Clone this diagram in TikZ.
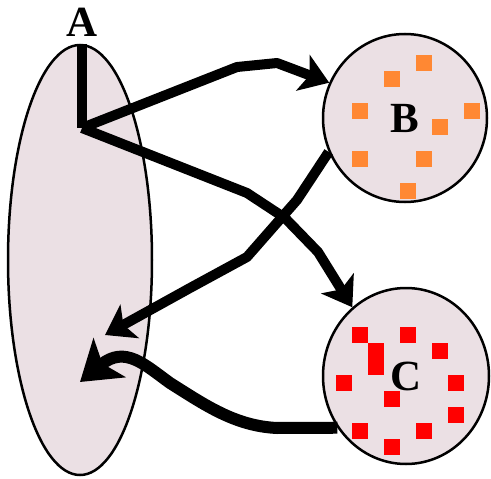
\documentclass[tikz,border=0pt]{standalone}
\usepackage{fontspec}
\setmainfont{Liberation Serif}
\usetikzlibrary{shapes.geometric,arrows.meta}
\definecolor{blobfill}{RGB}{235,224,228}
\definecolor{borange}{RGB}{255,136,51}
\tikzset{blob/.style={ellipse,draw,line width=2.5pt,fill=blobfill,inner sep=0pt,font=\fontsize{43}{43}\selectfont\bfseries},
  osq/.style={fill=borange,minimum size=16pt,inner sep=0pt},
  rsq/.style={fill=red,minimum size=16pt,inner sep=0pt},
  lbl/.style={inner sep=0pt,font=\fontsize{43}{43}\selectfont\bfseries},
  arr/.style={line width=10pt,line join=round,-{Stealth[length=28pt,width=38pt,inset=7pt]}}}

\begin{document}
\begin{tikzpicture}[x=1pt,y=-1pt]
\useasboundingbox (0,0) rectangle (491,479);
\node[blob,minimum width=144pt,minimum height=430pt] (a) at (80,260) {};
\node[lbl] (la) at (82,22) {A};
\node[blob,minimum width=164pt,minimum height=168pt] (b) at (405,118) {B};
\node[blob,minimum width=166pt,minimum height=176pt] (c) at (406,376) {C};
\foreach \x/\y [count=\i] in {424/63,392/79,360/111,472/111,440/127,360/159,424/159,408/191}
  \node[osq] (o\i) at (\x,\y) {};
\foreach \x/\y [count=\i] in {360/335,408/335,440/351,344/383,456/383,392/399,456/415,360/431,424/431,392/447}
  \node[rsq] (r\i) at (\x,\y) {};
\node[rsq,minimum height=32pt] (r11) at (376,359) {};
% stem and arrows
\coordinate (hub) at (82,128);
\coordinate (ain1) at (105,335);
\coordinate (ain2) at (80,382);
\draw[line width=10pt] (hub |- a.north) -- (hub);
\draw[arr] (hub) -- (237,67) -- (277,63) -- (b.155);
\draw[arr] (hub) -- (247,193) -- (285,218) -- (318,252) -- (c.128);
\draw[arr] (b.204) -- (297,200) -- (247,257) -- (190,288) -- (ain1);
\draw[arr,line width=12pt,-{Stealth[length=38pt,width=50pt,inset=9pt]}] (c.217) -- (277,428)
  .. controls (235,426) and (205,405) .. (170,383) .. controls (145,365) and (125,345) .. (ain2);
\end{tikzpicture}
\end{document}
